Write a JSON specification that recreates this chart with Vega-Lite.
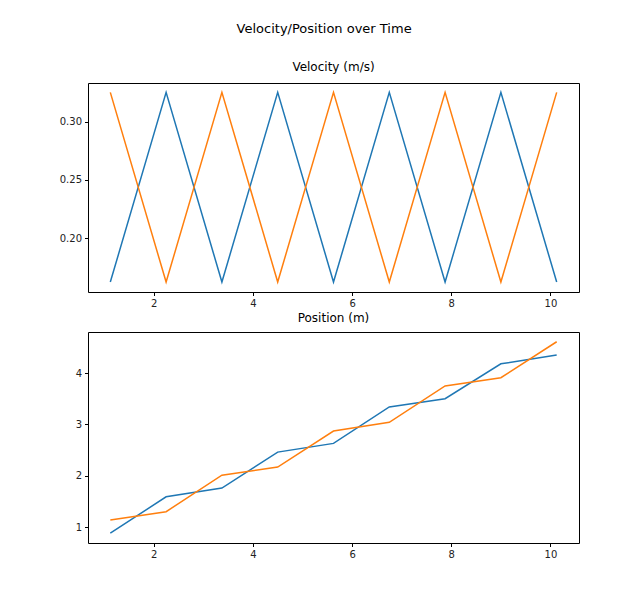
{
  "$schema": "https://vega.github.io/schema/vega-lite/v6.json",
  "background": "white",
  "padding": {"left": 58, "top": 22, "right": 10, "bottom": 10},
  "title": {"text": "Velocity/Position over Time", "anchor": "middle", "fontSize": 13, "fontWeight": "normal", "font": "DejaVu Sans", "color": "black", "offset": 25, "dx": 5},
  "datasets": {
    "vel": [
      {"t": 1.125, "v": 0.1625, "s": "a"}, {"t": 2.25, "v": 0.325, "s": "a"}, {"t": 3.375, "v": 0.1625, "s": "a"},
      {"t": 4.5, "v": 0.325, "s": "a"}, {"t": 5.625, "v": 0.1625, "s": "a"}, {"t": 6.75, "v": 0.325, "s": "a"},
      {"t": 7.875, "v": 0.1625, "s": "a"}, {"t": 9.0, "v": 0.325, "s": "a"}, {"t": 10.125, "v": 0.1625, "s": "a"},
      {"t": 1.125, "v": 0.325, "s": "b"}, {"t": 2.25, "v": 0.1625, "s": "b"}, {"t": 3.375, "v": 0.325, "s": "b"},
      {"t": 4.5, "v": 0.1625, "s": "b"}, {"t": 5.625, "v": 0.325, "s": "b"}, {"t": 6.75, "v": 0.1625, "s": "b"},
      {"t": 7.875, "v": 0.325, "s": "b"}, {"t": 9.0, "v": 0.1625, "s": "b"}, {"t": 10.125, "v": 0.325, "s": "b"}
    ],
    "pos": [
      {"t": 1.125, "p": 0.88, "s": "a"}, {"t": 2.25, "p": 1.59, "s": "a"}, {"t": 3.375, "p": 1.76, "s": "a"},
      {"t": 4.5, "p": 2.46, "s": "a"}, {"t": 5.625, "p": 2.63, "s": "a"}, {"t": 6.75, "p": 3.34, "s": "a"},
      {"t": 7.875, "p": 3.50, "s": "a"}, {"t": 9.0, "p": 4.18, "s": "a"}, {"t": 10.125, "p": 4.35, "s": "a"},
      {"t": 1.125, "p": 1.14, "s": "b"}, {"t": 2.25, "p": 1.30, "s": "b"}, {"t": 3.375, "p": 2.01, "s": "b"},
      {"t": 4.5, "p": 2.17, "s": "b"}, {"t": 5.625, "p": 2.87, "s": "b"}, {"t": 6.75, "p": 3.04, "s": "b"},
      {"t": 7.875, "p": 3.75, "s": "b"}, {"t": 9.0, "p": 3.91, "s": "b"}, {"t": 10.125, "p": 4.61, "s": "b"}
    ]
  },
  "spacing": 2,
  "vconcat": [
    {
      "width": 491,
      "height": 209,
      "title": {"text": "Velocity (m/s)", "frame": "group", "anchor": "middle", "offset": 9},
      "data": {"name": "vel"},
      "mark": {"type": "line", "strokeWidth": 1.5},
      "encoding": {
        "x": {"field": "t", "type": "quantitative", "scale": {"domain": [0.675, 10.575], "nice": false, "zero": false}, "axis": {"values": [2, 4, 6, 8, 10]}},
        "y": {"field": "v", "type": "quantitative", "scale": {"domain": [0.154, 0.333], "nice": false, "zero": false}, "axis": {"values": [0.2, 0.25, 0.3], "format": ".2f"}},
        "color": {"field": "s", "type": "nominal", "scale": {"domain": ["a", "b"], "range": ["#1f77b4", "#ff7f0e"]}, "legend": null}
      }
    },
    {
      "width": 491,
      "height": 211,
      "title": {"text": "Position (m)", "frame": "group", "anchor": "middle", "offset": 7},
      "data": {"name": "pos"},
      "mark": {"type": "line", "strokeWidth": 1.5},
      "encoding": {
        "x": {"field": "t", "type": "quantitative", "scale": {"domain": [0.675, 10.575], "nice": false, "zero": false}, "axis": {"values": [2, 4, 6, 8, 10]}},
        "y": {"field": "p", "type": "quantitative", "scale": {"domain": [0.69, 4.80], "nice": false, "zero": false}, "axis": {"values": [1, 2, 3, 4]}},
        "color": {"field": "s", "type": "nominal", "scale": {"domain": ["a", "b"], "range": ["#1f77b4", "#ff7f0e"]}, "legend": null}
      }
    }
  ],
  "config": {
    "view": {"stroke": "black", "strokeWidth": 1},
    "axis": {"domain": false, "grid": false, "tickColor": "black", "tickSize": 3.5, "labelPadding": 3, "labelFont": "DejaVu Sans", "labelFontSize": 10, "labelColor": "#222", "title": null},
    "title": {"font": "DejaVu Sans", "fontSize": 12, "fontWeight": "normal", "color": "black"}
  }
}
